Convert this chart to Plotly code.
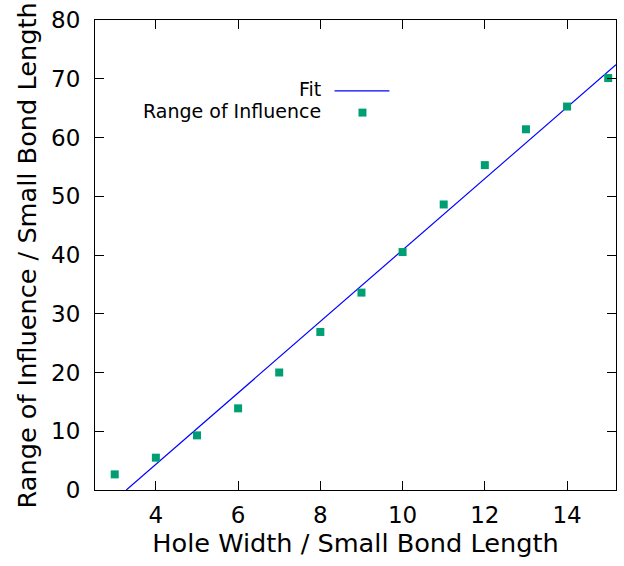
import plotly.graph_objects as go
import numpy as np

hole_width = [3, 4, 5, 6, 7, 8, 9, 10, 11, 12, 13, 14, 15]
range_of_influence = [2.66, 5.5, 9.3, 13.9, 20.0, 26.9, 33.6, 40.5, 48.6, 55.3, 61.4, 65.27, 70.12]
fit_slope = 6.08
fit_intercept = -19.95
x_range = [2.52, 15.19]
y_range = [0, 80]
x_ticks = [4, 6, 8, 10, 12, 14]
y_ticks = [0, 10, 20, 30, 40, 50, 60, 70, 80]

fit_x = np.linspace(-fit_intercept / fit_slope, x_range[1], 50)
fit_y = fit_slope * fit_x + fit_intercept

GREEN = "#009e73"
FONT = "DejaVu Sans"

fig = go.Figure()
fig.add_trace(go.Scatter(x=fit_x, y=fit_y, mode="lines",
                         line=dict(color="#0000ff", width=1.2), name="Fit", showlegend=False))
fig.add_trace(go.Scatter(x=hole_width, y=range_of_influence, mode="markers",
                         marker=dict(symbol="square", size=8, color=GREEN, line=dict(width=0)),
                         name="Range of Influence", showlegend=False))

PW, PH = 522, 472  # plot area size in px, for key placement
# gnuplot-style key: text right-aligned, sample on the right
fig.add_annotation(x=0.4385, y=0.853, xref="paper", yref="paper", text="Fit",
                   showarrow=False, xanchor="right", yanchor="middle",
                   font=dict(family=FONT, size=19, color="black"))
fig.add_annotation(x=0.4385, y=0.807, xref="paper", yref="paper", text="Range of Influence",
                   showarrow=False, xanchor="right", yanchor="middle",
                   font=dict(family=FONT, size=19, color="black"))
fig.add_shape(type="line", xref="paper", yref="paper", x0=0.4598, x1=0.5651, y0=0.849, y1=0.849,
              line=dict(color="#0000ff", width=1.2))
fig.add_shape(type="rect", xref="paper", yref="paper",
              x0=0.5134 - 4 / PW, x1=0.5134 + 4 / PW, y0=0.803 - 4 / PH, y1=0.803 + 4 / PH,
              fillcolor=GREEN, line=dict(width=0))

# y-axis title as a rotated annotation
fig.add_annotation(x=0, y=0.499, xref="paper", yref="paper", xshift=-68,
                   text="Range of Influence / Small Bond Length", textangle=-90,
                   showarrow=False, xanchor="center", yanchor="middle",
                   font=dict(family=FONT, size=25.6, color="black"))

axis_common = dict(showline=True, linecolor="black", linewidth=1, mirror="allticks",
                   ticks="inside", ticklen=9, tickcolor="black", tickwidth=1,
                   showgrid=False, zeroline=False,
                   tickfont=dict(family=FONT, size=23, color="black"))

fig.update_xaxes(range=x_range, tickvals=x_ticks, ticklabelstandoff=4,
                 title=dict(text="Hole Width / Small Bond Length",
                            font=dict(family=FONT, size=25.6, color="black"), standoff=7),
                 **axis_common)
fig.update_yaxes(range=y_range, tickvals=y_ticks, ticklabelstandoff=9, **axis_common)

fig.update_layout(width=624, height=566, margin=dict(l=95, r=7, t=18, b=76),
                  plot_bgcolor="white", paper_bgcolor="white", showlegend=False)

fig.write_html("out.html")
